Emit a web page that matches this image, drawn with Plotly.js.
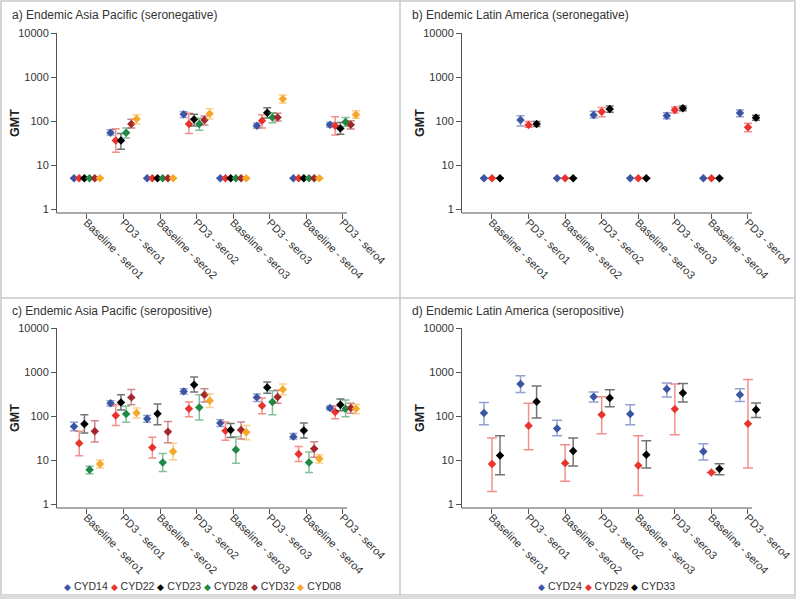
<!DOCTYPE html>
<html><head><meta charset="utf-8">
<script src="https://cdn.plot.ly/plotly-3.0.1.min.js"></script>
<style>html,body{margin:0;padding:0;background:#fff}#chart{width:796px;height:599px}</style>
</head><body><div id="chart"></div>
<script>
// ---------- data ----------
const categories = ['Baseline - sero1','PD3 - sero1','Baseline - sero2','PD3 - sero2','Baseline - sero3','PD3 - sero3','Baseline - sero4','PD3 - sero4'];
const yTickVals = [1,10,100,1000,10000];
const yTickText = ['1','10','100','1000','10000'];
const apStudies = ['CYD14','CYD22','CYD23','CYD28','CYD32','CYD08'];
const laStudies = ['CYD24','CYD29','CYD33'];
const panelTitles = ['a) Endemic Asia Pacific (seronegative)','b) Endemic Latin America (seronegative)','c) Endemic Asia Pacific (seropositive)','d) Endemic Latin America (seropositive)'];
const yTitle = 'GMT';

// a) Asia Pacific seronegative
const a_CYD14 = [5,54,5,142,5,78,5,82];   const a_CYD14_hi = [null,63,null,163,null,89,null,92];   const a_CYD14_lo = [null,48,null,121,null,69,null,73];
const a_CYD22 = [5,36,5,86,5,102,5,78];   const a_CYD22_hi = [null,67,null,150,null,139,null,125]; const a_CYD22_lo = [null,19.4,null,52,null,69,null,48];
const a_CYD23 = [5,36,5,109,5,154,5,68];  const a_CYD23_hi = [null,52,null,142,null,200,null,92];  const a_CYD23_lo = [null,22.7,null,77,null,117,null,50];
const a_CYD28 = [5,54,5,86,5,121,5,95];   const a_CYD28_hi = [null,69,null,115,null,154,null,121]; const a_CYD28_lo = [null,41,null,62,null,91,null,76];
const a_CYD32 = [5,86,5,105,5,121,5,82];  const a_CYD32_hi = [null,109,null,130,null,150,null,102];const a_CYD32_lo = [null,69,null,81,null,100,null,66];
const a_CYD08 = [5,111,5,147,5,316,5,139];const a_CYD08_hi = [null,139,null,190,null,388,null,171];const a_CYD08_lo = [null,86,null,111,null,257,null,115];

// b) Latin America seronegative
const b_CYD24 = [5,105,5,137,5,132,5,152]; const b_CYD24_hi = [null,132,null,166,null,154,null,178]; const b_CYD24_lo = [null,77,null,117,null,113,null,125];
const b_CYD29 = [5,81,5,163,5,178,5,72];   const b_CYD29_hi = [null,98,null,204,null,208,null,89];   const b_CYD29_lo = [null,72,null,125,null,152,null,57];
const b_CYD33 = [5,86,5,187,5,194,5,119];  const b_CYD33_hi = [null,98,null,219,null,219,null,135];  const b_CYD33_lo = [null,75,null,159,null,171,null,104];

// c) Asia Pacific seropositive
const c_CYD14 = [58,194,87,363,69,265,34,152];     const c_CYD14_hi = [72,223,103,417,82,316,40,169];   const c_CYD14_lo = [46,168,72,316,58,215,30,137];
const c_CYD22 = [24,103,19.3,147,46,171,13.7,123]; const c_CYD22_hi = [45,181,33,208,73,257,20.4,168];  const c_CYD22_lo = [12.5,61,11.1,96,28,113,9.3,87];
const c_CYD23 = [66,204,113,513,48,447,47,181];    const c_CYD23_hi = [107,303,187,769,68,593,69,243];  const c_CYD23_lo = [41,137,63,351,32.6,327,31.6,132];
const c_CYD28 = [6.0,111,8.8,157,17.1,208,8.8,147];const c_CYD28_hi = [7.2,166,14.1,303,34,376,15.2,230];const c_CYD28_lo = [4.9,72,5.5,81,8.4,107,5.2,96];
const c_CYD32 = [45,265,44,303,48,270,18,152];     const c_CYD32_hi = [78,400,75,417,73,383,26,194];    const c_CYD32_lo = [25.7,181,24.6,208,30,194,11.5,115];
const c_CYD08 = [8.1,117,15.7,223,43,400,10.7,147];const c_CYD08_hi = [10,152,24,316,61,533,13.2,183];  const c_CYD08_lo = [6.6,90,10.2,157,29,303,8.6,113];

// d) Latin America seropositive
const d_CYD24 = [117,532,52,274,111,410,15.7,303]; const d_CYD24_hi = [204,824,80,351,181,562,23.4,417]; const d_CYD24_lo = [63,344,35.7,208,63,270,10,215];
const d_CYD29 = [8.1,60,8.5,107,7.5,144,5.2,67];   const d_CYD29_hi = [31.6,194,22.3,274,35.7,533,null,680]; const d_CYD29_lo = [1.93,17.1,3.3,39.6,1.57,37.6,null,6.6];
const d_CYD33 = [12.7,211,16,257,13.2,333,6.3,139];const d_CYD33_hi = [35.7,480,31.6,395,27.4,550,8.2,197]; const d_CYD33_lo = [4.6,90,7.3,163,6.6,208,4.6,93];

// ---------- styles ----------
const apColors = ['#3b55a5','#e8342c','#000000','#1d8a45','#a3282b','#f7a82a'];
const laColors = ['#3b55a5','#e8342c','#000000'];
function rgba(hex,a){const n=parseInt(hex.slice(1),16);return `rgba(${n>>16},${(n>>8)&255},${n&255},${a})`;}

const panels = [
  {ax:'', series:[[a_CYD14,a_CYD14_hi,a_CYD14_lo],[a_CYD22,a_CYD22_hi,a_CYD22_lo],[a_CYD23,a_CYD23_hi,a_CYD23_lo],[a_CYD28,a_CYD28_hi,a_CYD28_lo],[a_CYD32,a_CYD32_hi,a_CYD32_lo],[a_CYD08,a_CYD08_hi,a_CYD08_lo]], names:apStudies, colors:apColors, step:0.142, cap:4},
  {ax:'2', series:[[b_CYD24,b_CYD24_hi,b_CYD24_lo],[b_CYD29,b_CYD29_hi,b_CYD29_lo],[b_CYD33,b_CYD33_hi,b_CYD33_lo]], names:laStudies, colors:laColors, step:0.22, cap:4},
  {ax:'3', series:[[c_CYD14,c_CYD14_hi,c_CYD14_lo],[c_CYD22,c_CYD22_hi,c_CYD22_lo],[c_CYD23,c_CYD23_hi,c_CYD23_lo],[c_CYD28,c_CYD28_hi,c_CYD28_lo],[c_CYD32,c_CYD32_hi,c_CYD32_lo],[c_CYD08,c_CYD08_hi,c_CYD08_lo]], names:apStudies, colors:apColors, step:0.142, cap:4},
  {ax:'4', series:[[d_CYD24,d_CYD24_hi,d_CYD24_lo],[d_CYD29,d_CYD29_hi,d_CYD29_lo],[d_CYD33,d_CYD33_hi,d_CYD33_lo]], names:laStudies, colors:laColors, step:0.22, cap:5}
];

const traces = [];
panels.forEach(p=>{
  const n = p.series.length;
  p.series.forEach((s,i)=>{
    const [v,hi,lo] = s;
    const off = (i-(n-1)/2)*p.step;
    traces.push({
      type:'scatter', mode:'markers', name:p.names[i], showlegend:false, cliponaxis:false,
      x: categories.map((c,k)=>k+off), y: v,
      xaxis:'x'+p.ax, yaxis:'y'+p.ax,
      marker:{symbol:'diamond', size:6.5, color:p.colors[i]},
      error_y:{type:'data', symmetric:false,
        array: v.map((val,k)=>hi[k]==null?null:hi[k]-val),
        arrayminus: v.map((val,k)=>lo[k]==null?null:val-lo[k]),
        color: rgba(p.colors[i],0.55), thickness:1.5, width:p.cap},
      hoverinfo:'skip'
    });
  });
});

const W=796,H=599;
const px = v=>v/W, py = v=>1-v/H;
// each plot: axis from x0 to x0+290 px showing categories -0.82..7.11; range extended to 7.5 so the outer markers stay visible
const catPx = 290/7.93;
const XR = [-0.82, 7.5];
const xStarts = [57, 462];
const xdom = xStarts.map(s=>[px(s), px(s + catPx*(XR[1]-XR[0]))]);
const ydom = [[py(213),py(33)],[py(508),py(328)]];
const FONT = 'Liberation Sans, Arial, sans-serif';
const tickFont = {family:FONT, size:11, color:'#333'};
function xa(dom,anchor){return {domain:dom, anchor:anchor, range:XR, tickmode:'array', tickvals:categories.map((c,k)=>k), ticktext:categories,
  tickangle:45, ticks:'outside', ticklen:5, tickcolor:'#555', showline:false, showgrid:false, zeroline:false, tickfont:tickFont,
  ticklabelstandoff:-7, fixedrange:true};}
function ya(dom,anchor){return {domain:dom, anchor:anchor, type:'log', range:[-0.09,4], tickmode:'array', tickvals:yTickVals, ticktext:yTickText,
  ticks:'outside', ticklen:5, tickcolor:'#555', showline:true, linecolor:'#555', linewidth:1, showgrid:false, zeroline:false, tickfont:tickFont, fixedrange:true};}

const annotations = [];
const titlePos = [[10,15],[410,15],[10,311],[410,311]];
panelTitles.forEach((t,i)=>annotations.push({text:t, xref:'paper', yref:'paper', x:px(titlePos[i][0]), y:py(titlePos[i][1]), xanchor:'left', yanchor:'middle', showarrow:false,
  font:{family:FONT, size:12, color:'#333'}}));
// y-axis titles
[[15,123],[420,123],[15,418],[420,418]].forEach(([x,y])=>annotations.push({text:'<b>'+yTitle+'</b>', textangle:-90, xref:'paper', yref:'paper', x:px(x), y:py(y),
  xanchor:'center', yanchor:'middle', showarrow:false, font:{family:FONT, size:12.5, color:'#222'}}));
function legendText(names,colors){return names.map((nm,i)=>`<span style="color:${colors[i]};font-size:8.5px">◆</span> ${nm}`).join('&nbsp;');}
annotations.push({text:legendText(apStudies,apColors), xref:'paper', yref:'paper', x:px(202), y:py(586), xanchor:'center', yanchor:'middle', showarrow:false, font:{family:FONT, size:10.5, color:'#333'}});
annotations.push({text:legendText(laStudies,laColors), xref:'paper', yref:'paper', x:px(606), y:py(586), xanchor:'center', yanchor:'middle', showarrow:false, font:{family:FONT, size:10.5, color:'#333'}});

const border = '#c8c8c8';
const shapes = [
  {type:'rect', xref:'paper', yref:'paper', x0:px(1), x1:px(795), y0:py(1), y1:py(595), line:{color:border, width:1.5}},
  {type:'rect', xref:'paper', yref:'paper', x0:0, x1:1, y0:py(599), y1:py(595), line:{width:0}, fillcolor:'#dcdcdc'},
  {type:'line', xref:'paper', yref:'paper', x0:px(400), x1:px(400), y0:py(1), y1:py(595), line:{color:border, width:1.5}},
  {type:'line', xref:'paper', yref:'paper', x0:px(1), x1:px(795), y0:py(298), y1:py(298), line:{color:border, width:1.5}}
];
// x axis lines (ending just past the last category)
['x','x2','x3','x4'].forEach((xr,i)=>{
  const yr = ['y','y2','y3','y4'][i];
  shapes.push({type:'line', xref:xr, yref:yr+' domain', x0:XR[0], x1:7.11, y0:0, y1:0, line:{color:'#555', width:1}});
});

const layout = {
  width:W, height:H, margin:{l:0,r:0,t:0,b:0}, paper_bgcolor:'#fff', plot_bgcolor:'#fff', showlegend:false,
  xaxis:xa(xdom[0],'y'), yaxis:ya(ydom[0],'x'),
  xaxis2:xa(xdom[1],'y2'), yaxis2:ya(ydom[0],'x2'),
  xaxis3:xa(xdom[0],'y3'), yaxis3:ya(ydom[1],'x3'),
  xaxis4:xa(xdom[1],'y4'), yaxis4:ya(ydom[1],'x4'),
  annotations:annotations, shapes:shapes
};
Plotly.newPlot('chart', traces, layout, {staticPlot:true, displayModeBar:false});
</script></body></html>
